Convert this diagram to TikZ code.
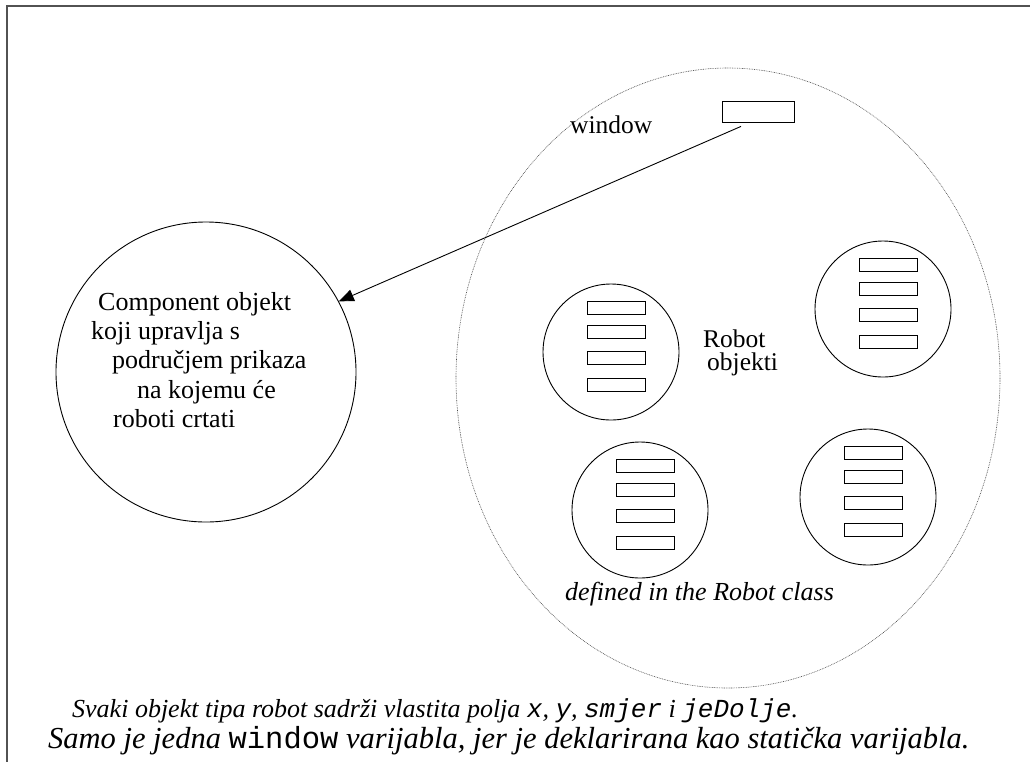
\documentclass[tikz,border=0pt]{standalone}
\usepackage{fontspec}
\setmainfont{Liberation Serif}
\setmonofont{Liberation Mono}
\usetikzlibrary{arrows.meta,calc}
\begin{document}
\begin{tikzpicture}[x=1pt,y=-1pt,
  frameline/.style={line width=2pt,draw=black!68},
  txt/.style={anchor=base west,inner sep=0pt,font=\fontsize{25.5}{29}\selectfont},
  ctxt/.style={anchor=base west,inner sep=0pt,font=\fontsize{26}{29}\selectfont},
  bigcirc/.style={circle,draw,line width=0.9pt,minimum size=300pt,inner sep=0pt},
  robotc/.style={circle,draw,line width=0.9pt,minimum size=136pt,inner sep=0pt},
  fieldbox/.style={rectangle,draw,line width=0.8pt,minimum width=58pt,minimum height=13.5pt,inner sep=0pt},
  winbox/.style={rectangle,draw,line width=0.8pt,minimum width=72pt,minimum height=21pt,inner sep=0pt},
  classellipse/.style={draw=black!70,line width=0.6pt,dash pattern=on 0.8pt off 0.9pt},
  ptr/.style={line width=0.9pt,-{Triangle[length=15pt,width=12pt]}}
]
\useasboundingbox (0,0) rectangle (1030,761);
\fill[white] (0,0) rectangle (1030,761);
% frame (right and bottom edges lie outside the picture)
\draw[frameline] (1035,6) -- (7,6) -- (7,766);

% class ellipse
\draw[classellipse] (728,378) ellipse [x radius=272, y radius=310];

% window field
\node[winbox] (win) at (758,111.5) {};
\node[txt] (wintxt) at (570,133) {window};

% component circle
\node[bigcirc] (comp) at (206,372) {};
\node[ctxt] (c1) at (98,310) {Component objekt};
\node[ctxt] (c2) at (91,339) {koji upravlja s};
\node[ctxt] (c3) at (112,368) {područjem prikaza};
\node[ctxt] (c4) at (137,398) {na kojemu će};
\node[ctxt] (c5) at (113,427) {roboti crtati};

% arrow
\coordinate (wstart) at ($(win.south)+(-17,4)$);
\draw[ptr] (wstart) -- (comp.28);

% robot objects
\newcommand{\robotobj}[3]{%
  \node[robotc] (#1) at (#2,#3) {};
  \node[fieldbox] (#1a) at ({#2+5},{#3-44}) {};
  \node[fieldbox] (#1b) at ({#2+5},{#3-20}) {};
  \node[fieldbox] (#1c) at ({#2+5},{#3+6}) {};
  \node[fieldbox] (#1d) at ({#2+5},{#3+33}) {};
}
\robotobj{ra}{611}{352}
\robotobj{rb}{883}{309}
\robotobj{rc}{640}{510}
\robotobj{rd}{868}{497}

\node[txt] (rt1) at (703,347) {Robot};
\node[txt] (rt2) at (707,370) {objekti};

\node[anchor=base west,inner sep=0pt,font=\fontsize{26}{29}\selectfont\itshape] (deftxt) at (565,600) {defined in the Robot class};

% bottom notes
\node[anchor=base west,inner sep=0pt,font=\fontsize{26}{30}\selectfont\itshape] (note1) at (72,717)
  {Svaki objekt tipa robot sadrži vlastita polja \texttt{x}, \texttt{y}, \texttt{smjer} i \texttt{jeDolje}.};
\node[anchor=base west,inner sep=0pt,font=\fontsize{30.5}{34}\selectfont\itshape] (note2) at (48,748)
  {Samo je jedna \texttt{\upshape window} varijabla, jer je deklarirana kao statička varijabla.};
\end{tikzpicture}
\end{document}
